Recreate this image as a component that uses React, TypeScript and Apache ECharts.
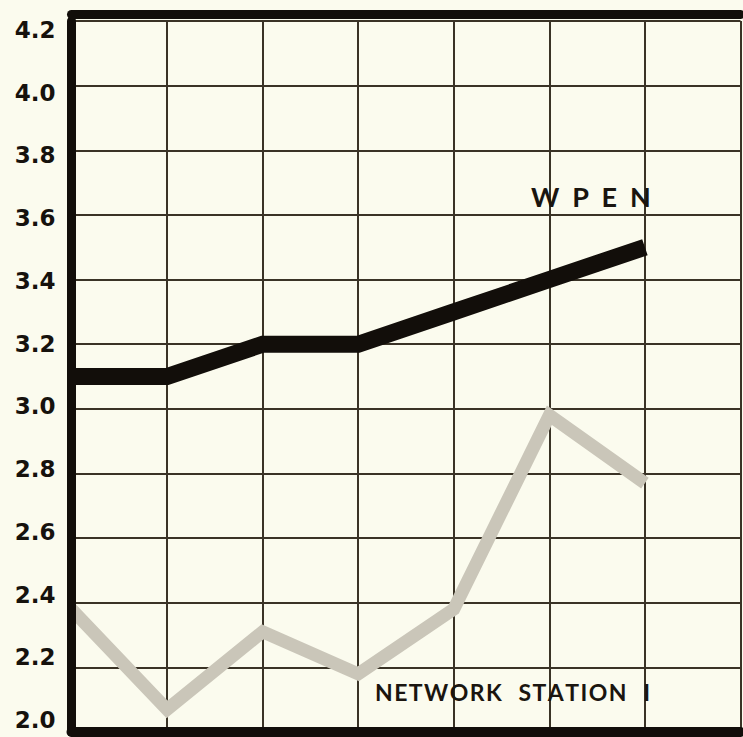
import React, { useEffect, useRef } from "react";
import * as echarts from "echarts";

const xPositions = [0, 1, 2, 3, 4, 5, 6];
const wpenValues = [3.1, 3.1, 3.2, 3.2, 3.3, 3.4, 3.5];
const networkValues = [2.38, 2.07, 2.31, 2.18, 2.38, 2.98, 2.77];
const yTickLabels = ["2.0", "2.2", "2.4", "2.6", "2.8", "3.0", "3.2", "3.4", "3.6", "3.8", "4.0", "4.2"];
const seriesNames = ["WPEN", "NETWORK STATION I"];

const BG = "#fbfbee";
const INK = "#120e0a";
const GRIDC = "#3a3326";

const spaced = (s: string, letterGap: string, wordGap: string) =>
  s.split(" ").map((w) => w.split("").join(letterGap)).join(wordGap);

export default function App() {
  const ref = useRef<HTMLDivElement>(null);
  useEffect(() => {
    if (!ref.current) return;
    const chart = echarts.init(ref.current, null, { renderer: "svg" });
    const hidden = { show: false };
    const option: any = {
      animation: false,
      backgroundColor: BG,
      grid: [
        { left: 71.5, right: 2.5, top: 21, bottom: 5 },
        { left: 71.5, right: 2.5, top: 30, bottom: 17 },
      ],
      xAxis: [
        {
          gridIndex: 0, type: "value", min: 0, max: 7, interval: 1,
          axisLine: hidden, axisTick: hidden, axisLabel: hidden,
          splitLine: { show: true, lineStyle: { color: GRIDC, width: 2 } }, z: 0,
        },
        {
          gridIndex: 0, type: "value", min: 0, max: 7, position: "bottom",
          axisLine: { show: true, lineStyle: { color: INK, width: 10 } },
          axisTick: hidden, axisLabel: hidden, splitLine: hidden, z: 10,
        },
        {
          gridIndex: 0, type: "value", min: 0, max: 7, position: "top", offset: 6.5,
          axisLine: { show: true, lineStyle: { color: INK, width: 9 } },
          axisTick: hidden, axisLabel: hidden, splitLine: hidden, z: 10,
        },
        { gridIndex: 1, type: "value", min: 0, max: 7, show: false },
      ],
      yAxis: [
        {
          gridIndex: 0, type: "value", min: 2.0, max: 4.2, interval: 0.2,
          axisLine: hidden, axisTick: hidden, axisLabel: hidden,
          splitLine: { show: true, lineStyle: { color: GRIDC, width: 2 } }, z: 0,
        },
        {
          gridIndex: 0, type: "value", min: 2.0, max: 4.2, position: "left",
          axisLine: { show: true, lineStyle: { color: INK, width: 9 } },
          axisTick: hidden, axisLabel: hidden, splitLine: hidden, z: 10,
        },
        {
          gridIndex: 0, type: "value", min: 2.0, max: 4.2, position: "right",
          axisLine: { show: true, lineStyle: { color: INK, width: 5 } },
          axisTick: hidden, axisLabel: hidden, splitLine: hidden, z: 10,
        },
        {
          gridIndex: 1, type: "category", data: yTickLabels, boundaryGap: false,
          position: "left",
          axisLine: hidden, axisTick: hidden, splitLine: hidden,
          axisLabel: {
            show: true, margin: 16, color: "#16120d",
            fontFamily: "DejaVu Sans", fontWeight: "bold", fontSize: 23,
          },
        },
      ],
      series: [
        {
          name: seriesNames[1], type: "line", xAxisIndex: 0, yAxisIndex: 0,
          data: xPositions.map((x, i) => [x, networkValues[i]]),
          showSymbol: false, symbol: "none", z: 3,
          lineStyle: { color: "#cac6b9", width: 13, join: "miter" },
        },
        {
          name: seriesNames[0], type: "line", xAxisIndex: 0, yAxisIndex: 0,
          data: xPositions.map((x, i) => [x, wpenValues[i]]),
          showSymbol: false, symbol: "none", z: 4,
          lineStyle: { color: INK, width: 17, join: "miter" },
        },
      ],
      graphic: [
        {
          type: "text", left: 531, top: 183, z: 20,
          style: {
            text: spaced(seriesNames[0], "\u00a0\u00a0", "\u00a0"),
            fill: "#1a150f", font: "bold 27px Lato",
          },
        },
        {
          type: "text", left: 375, top: 680, z: 20,
          style: {
            text: spaced(seriesNames[1], "\u200a", "\u00a0\u00a0\u00a0"),
            fill: "#1a150f", font: "bold 23px Lato",
          },
        },
      ],
    };
    chart.setOption(option);
    return () => chart.dispose();
  }, []);
  return (
    <div style={{ position: "fixed", left: 0, top: 0, width: 743, height: 737, background: BG }}>
      <div ref={ref} style={{ width: 743, height: 737 }} />
    </div>
  );
}
